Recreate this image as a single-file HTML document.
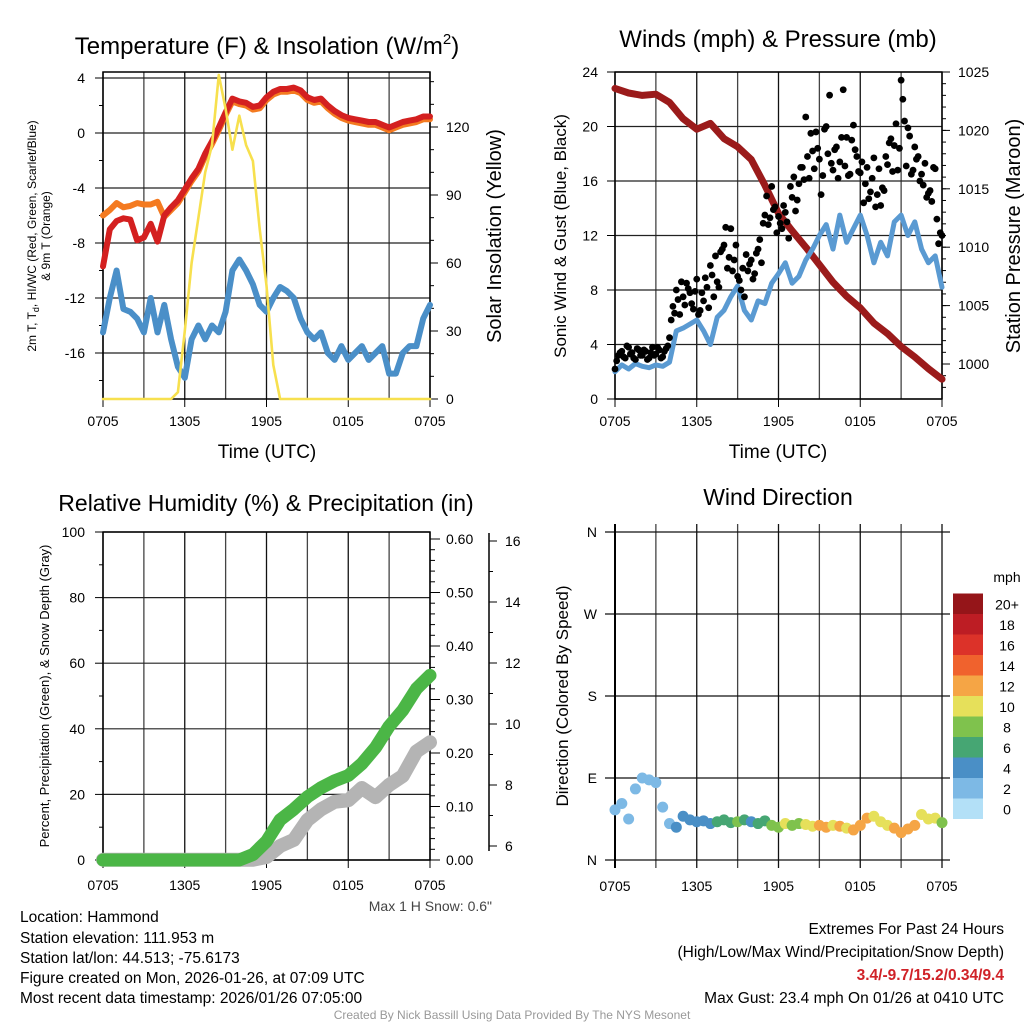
<!DOCTYPE html>
<html><head><meta charset="utf-8"><style>
html,body{margin:0;padding:0;background:#fff;}
svg{display:block;font-family:"Liberation Sans",sans-serif;}
</style></head><body>
<svg id="s" width="1024" height="1024" viewBox="0 0 1024 1024" xmlns="http://www.w3.org/2000/svg">
<rect width="1024" height="1024" fill="#fff"/>
<text x="267" y="54" font-size="24" text-anchor="middle">Temperature (F) &amp; Insolation (W/m<tspan font-size="15" dy="-10">2</tspan><tspan dy="10">)</tspan></text>
<text x="778" y="47" font-size="24" text-anchor="middle">Winds (mph) &amp; Pressure (mb)</text>
<text x="266" y="511" font-size="23" text-anchor="middle">Relative Humidity (%) &amp; Precipitation (in)</text>
<text x="778" y="505" font-size="23" text-anchor="middle">Wind Direction</text>

<text transform="translate(36,236) rotate(-90)" font-size="12" text-anchor="middle">2m T, T<tspan font-size="9" dy="3">d</tspan><tspan dy="-3">, HI/WC (Red, Green, Scarlet/Blue)</tspan></text>
<text transform="translate(50,236) rotate(-90)" font-size="12" text-anchor="middle">&amp; 9m T (Orange)</text>
<text transform="translate(501,236) rotate(-90)" font-size="20" text-anchor="middle">Solar Insolation (Yellow)</text>
<text transform="translate(566,236) rotate(-90)" font-size="17" text-anchor="middle">Sonic Wind &amp; Gust (Blue, Black)</text>
<text transform="translate(1020,236) rotate(-90)" font-size="20" text-anchor="middle">Station Pressure (Maroon)</text>
<text transform="translate(49,696) rotate(-90)" font-size="13" text-anchor="middle">Percent, Precipitation (Green), &amp; Snow Depth (Gray)</text>
<text transform="translate(568,696) rotate(-90)" font-size="17" text-anchor="middle">Direction (Colored By Speed)</text>
<text x="267" y="458" font-size="19" text-anchor="middle">Time (UTC)</text>
<text x="778" y="458" font-size="19" text-anchor="middle">Time (UTC)</text>
<text x="492" y="911" font-size="14" fill="#444" text-anchor="end">Max 1 H Snow: 0.6"</text>
<text x="1007" y="582" font-size="14" text-anchor="middle">mph</text>

<g font-size="15.5">
<text x="20" y="922">Location: Hammond</text>
<text x="20" y="943">Station elevation: 111.953 m</text>
<text x="20" y="963">Station lat/lon: 44.513; -75.6173</text>
<text x="20" y="983">Figure created on Mon, 2026-01-26, at 07:09 UTC</text>
<text x="20" y="1003">Most recent data timestamp: 2026/01/26 07:05:00</text>
</g>
<g font-size="15.5" text-anchor="end">
<text x="1004" y="934">Extremes For Past 24 Hours</text>
<text x="1004" y="957">(High/Low/Max Wind/Precipitation/Snow Depth)</text>
<text x="1004" y="980" fill="#d02228" font-weight="bold">3.4/-9.7/15.2/0.34/9.4</text>
<text x="1004" y="1003">Max Gust: 23.4 mph On 01/26 at 0410 UTC</text>
</g>
<text x="512" y="1019" font-size="12" fill="#999" text-anchor="middle">Created By Nick Bassill Using Data Provided By The NYS Mesonet</text>
</svg>
<script>
// ---- data (half-hourly unless noted) ----
const timeLabels = ["0705","1305","1905","0105","0705"];
const tempRed = [-9.7,-7.0,-6.4,-6.2,-6.3,-7.8,-7.6,-6.6,-7.9,-6.0,-5.4,-4.9,-4.1,-3.3,-2.6,-1.5,-0.6,0.4,1.5,2.5,2.3,2.2,1.9,2.0,2.6,3.0,3.2,3.2,3.3,3.1,2.6,2.4,2.5,2.0,1.6,1.3,1.1,1.0,0.9,0.8,0.8,0.6,0.4,0.6,0.8,0.9,1.0,1.2,1.2];
const temp9m = [-6.0,-5.6,-5.1,-5.4,-5.3,-5.1,-5.2,-5.2,-5.0,-6.1,-5.6,-5.1,-4.3,-3.5,-2.8,-1.7,-0.8,0.2,1.3,2.3,2.1,2.0,1.7,1.8,2.4,2.8,3.0,3.0,3.1,2.9,2.4,2.2,2.3,1.8,1.4,1.1,0.9,0.8,0.7,0.6,0.6,0.4,0.2,0.4,0.6,0.7,0.8,1.0,1.0];
const dewBlue = [-14.5,-12.0,-10.0,-12.8,-13.0,-13.5,-14.5,-12.0,-14.5,-12.5,-15.0,-17.0,-17.8,-15.0,-14.0,-15.0,-14.0,-14.5,-13.0,-10.0,-9.2,-10.0,-11.0,-12.5,-13.0,-12.0,-11.2,-11.5,-12.0,-13.5,-14.5,-15.0,-14.5,-16.0,-16.5,-15.5,-16.5,-16.0,-15.5,-16.5,-16.0,-15.5,-17.5,-17.5,-16.0,-15.5,-15.5,-13.5,-12.5];
const insolation = [0,0,0,0,0,0,0,0,0,0,0,3,30,60,80,100,112,143,128,110,125,112,105,75,50,15,0,0,0,0,0,0,0,0,0,0,0,0,0,0,0,0,0,0,0,0,0,0,0];
const windSpeed = [2.0,2.5,2.2,2.6,2.4,2.3,2.5,2.4,2.7,5.0,5.2,5.5,5.8,5.0,4.0,6.0,6.5,7.5,8.3,6.5,5.8,7.2,7.0,8.5,9.2,10.0,8.5,9.0,10.2,11.0,12.0,12.8,11.0,13.5,11.5,12.5,13.5,12.0,10.0,11.5,10.5,13.0,13.5,12.0,13.0,11.0,10.0,10.5,8.2];
// gusts every 15 min, second set offset by 7.5 min
const gustA = [2.2,3.2,3.5,3.0,3.8,3.4,2.9,3.6, 3.2,3.5,3.0,3.8,3.3,3.6,3.1,3.7, 4.5,6.8,8.0,6.2,7.5,8.5,7.8,6.6, 8.8,6.5,7.2,8.2,9.8,7.5,8.6,10.8, 11.3,9.6,12.5,10.2,9.0,8.0,7.5,9.4, 10.2,9.2,11.0,10.0,13.5,12.8,15.6,14.1, 13.4,12.5,13.7,11.8,14.8,13.8,15.8,17.0, 20.7,16.2,18.2,19.6,17.6,16.4,20.0,22.3, 16.8,18.5,17.4,22.7,19.2,16.5,20.1,17.8, 16.6,14.4,17.0,15.2,17.7,15.0,14.2,15.3, 17.2,19.1,18.6,16.8,23.4,20.4,19.9,16.5, 18.5,17.8,16.5,17.3,15.1,14.5,16.9,11.4, 12.0];
const gustB = [2.8,3.4,3.1,3.9,3.3,3.0,3.7,3.2, 3.6,2.9,3.4,3.2,3.8,3.0,3.5,3.9, 5.8,6.3,7.3,8.6,6.9,8.1,7.0,7.9, 6.2,7.8,8.9,6.7,9.1,10.5,8.2,11.0, 12.6,10.4,9.4,11.3,8.7,9.6,10.6,9.9, 8.8,10.7,11.7,12.9,14.9,13.3,13.9,12.2, 12.9,14.2,13.0,15.6,16.3,14.6,17.0,16.1, 17.8,19.5,16.9,18.4,15.0,19.8,18.0,17.3, 18.3,16.2,19.2,17.1,16.4,19.0,18.3,16.7, 17.4,15.8,14.7,16.2,14.1,16.9,15.5,17.8, 18.8,16.7,20.2,18.4,22.0,17.1,19.3,16.8, 17.6,16.0,15.7,14.8,15.3,17.0,13.2,12.2];
// hourly
const pressure = [1023.6,1023.2,1023.0,1023.1,1022.4,1021.0,1020.1,1020.6,1019.3,1018.6,1017.5,1015.3,1012.9,1011.4,1010.0,1008.5,1007.0,1005.8,1004.8,1003.5,1002.6,1001.5,1000.6,999.6,998.7];
const precip = [0,0,0,0,0,0,0,0,0,0,0,0.01,0.035,0.075,0.095,0.118,0.135,0.148,0.158,0.18,0.21,0.25,0.28,0.32,0.345];
const snowDepth = [5.55,5.55,5.55,5.55,5.55,5.55,5.55,5.55,5.55,5.55,5.55,5.55,5.64,6.0,6.2,6.85,7.2,7.45,7.5,7.9,7.6,8.0,8.3,9.1,9.4];
const windDir = [55,62,45,78,90,88,85,58,40,36,48,44,42,43,40,42,44,41,42,44,42,40,43,38,36,40,38,40,39,37,38,36,38,37,35,33,38,46,48,42,38,35,30,34,38,50,45,46,41];
const cbLabels = ["0","2","4","6","8","10","12","14","16","18","20+"];
const cbColors = ["#b3e0f7","#7db9e5","#4a8fc6","#46a673","#7fc24d","#e6e05a","#f5a545","#f0622d","#dc3229","#bd1d24","#951519"];
const NS="http://www.w3.org/2000/svg", svg=document.getElementById('s');
function mk(tag,attrs,parent){const e=document.createElementNS(NS,tag);for(const k in attrs)e.setAttribute(k,attrs[k]);(parent||svg).appendChild(e);return e;}
function lin(d0,d1,r0,r1){return v=>r0+(v-d0)*(r1-r0)/(d1-d0);}
function pathD(arr,step,xs,ys){return arr.map((v,i)=>(i?'L':'M')+xs(i*step).toFixed(1)+' '+ys(v).toFixed(1)).join('');}
function txt(x,y,s,anchor,size,name){const t=mk('text',{x:x,y:y,'font-size':size||14,'text-anchor':anchor||'middle'});t.textContent=s;


return t;}
function line(x1,y1,x2,y2,st,w,name){const l=mk('line',{x1:x1,y1:y1,x2:x2,y2:y2,stroke:st,'stroke-width':w});


return l;}
function grid(L,R,T,B,hys,name,lblOff){
  for(let k=0;k<=8;k++){const x=L+k*(R-L)/8;line(x,T,x,B,k%2?'#444':'#111',1.3,name+'-vgrid');}
  hys.forEach(y=>line(L,y,R,y,'#222',1.2,name+'-hgrid'));
  timeLabels.forEach((s,i)=>{const x=L+i*(R-L)/4;txt(x,B+lblOff,s,'middle',14,name+'-time-label');line(x,B,x,B+8,'#000',1,name+'-time-tick');});
}
// ---------- Panel 1 ----------
{const L=103,R=430,T=72,B=399;const xs=lin(0,24,L,R);const yT=lin(0,4,133,78);const yI=lin(0,30,399,331);
 const g=[4,0,-4,-8,-12,-16];grid(L,R,T,B,g.map(yT),'temp',27);
 g.forEach(v=>{txt(85,yT(v)+5,String(v),'end',14,'temp-y-label');line(L-8,yT(v),L,yT(v),'#000',1,'temp-y-tick');});
 for(let v=-18;v<=4;v+=2)line(L-4,yT(v),L,yT(v),'#000',1,'temp-y-minor');
 [0,30,60,90,120].forEach(v=>{txt(446,yI(v)+5,String(v),'start',14,'insol-y-label');line(R,yI(v),R+8,yI(v),'#000',1,'insol-y-tick');});
 for(let v=0;v<=140;v+=10)line(R,yI(v),R+4,yI(v),'#000',1,'insol-y-minor');
 const fr=mk('rect',{x:L,y:T,width:R-L,height:B-T,fill:'none',stroke:'#000','stroke-width':1.5});
 
 
 const s=[[temp9m,'#f47a20',6,'nine-meter-temp-line'],[tempRed,'#d42020',6,'temperature-line'],[dewBlue,'#4a8fc8',6,'dewpoint-line'],[insolation,'#f7e04e',2.6,'insolation-line']];
 s.forEach(([a,c,w,n])=>{const ys=(a===insolation)?yI:yT;const p=mk('path',{d:pathD(a,0.5,xs,ys),fill:'none',stroke:c,'stroke-width':w,'stroke-linejoin':'round','stroke-linecap':'round'});
 
 });
}
// ---------- Panel 2 ----------
{const L=615,R=942,T=72,B=399;const xs=lin(0,24,L,R);const yW=lin(0,24,399,72);const yP=lin(1000,1025,364,72);
 const g=[0,4,8,12,16,20,24];grid(L,R,T,B,g.map(yW),'wind',27);
 g.forEach(v=>{txt(598,yW(v)+5,String(v),'end',14,'wind-y-label');line(L-8,yW(v),L,yW(v),'#000',1,'wind-y-tick');});
 [1000,1005,1010,1015,1020,1025].forEach(v=>{txt(958,yP(v)+5,String(v),'start',14,'pressure-y-label');line(R,yP(v),R+8,yP(v),'#000',1,'pressure-y-tick');});
 for(let v=998;v<=1025;v++)line(R,yP(v),R+4,yP(v),'#000',1,'pressure-y-minor');
 const fr=mk('rect',{x:L,y:T,width:R-L,height:B-T,fill:'none',stroke:'#000','stroke-width':1.5});
 
 
 const p=mk('path',{d:pathD(pressure,1,xs,yP),fill:'none',stroke:'#9b1b1b','stroke-width':7,'stroke-linejoin':'round','stroke-linecap':'round'});
 
 
 const w=mk('path',{d:pathD(windSpeed,0.5,xs,yW),fill:'none',stroke:'#5a9ad2','stroke-width':5,'stroke-linejoin':'round','stroke-linecap':'round'});
 
 
 gustA.forEach((v,i)=>{const c=mk('circle',{cx:xs(i*0.25),cy:yW(v),r:3.4,fill:'#000'});
 
 });
 gustB.forEach((v,i)=>{const c=mk('circle',{cx:xs(i*0.25+0.125),cy:yW(v),r:3.4,fill:'#000'});
 
 });
}
// ---------- Panel 3 ----------
{const L=103,R=430,T=532,B=860;const xs=lin(0,24,L,R);const yH=lin(0,100,860,532);const yPr=lin(0,0.6,860,539);const yS=lin(6,16,846,541);
 const g=[0,20,40,60,80,100];grid(L,R,T,B,g.map(yH),'rh',30);
 g.forEach(v=>{txt(85,yH(v)+5,String(v),'end',14,'rh-y-label');line(L-8,yH(v),L,yH(v),'#000',1,'rh-y-tick');});
 for(let v=10;v<100;v+=20)line(L-4,yH(v),L,yH(v),'#000',1,'rh-y-minor');
 [0,0.1,0.2,0.3,0.4,0.5,0.6].forEach(v=>{txt(446,yPr(v)+5,v.toFixed(2),'start',14,'precip-y-label');line(R,yPr(v),R+10,yPr(v),'#000',1,'precip-y-tick');});
 for(let v=0;v<=0.6;v+=0.02)line(R,yPr(v),R+5,yPr(v),'#000',1,'precip-y-minor');
 line(489,533,489,851,'#000',1.5,'snow-axis-line');
 [6,8,10,12,14,16].forEach(v=>{txt(505,yS(v)+5,String(v),'start',14,'snow-y-label');line(489,yS(v),497,yS(v),'#000',1,'snow-y-tick');});
 for(let v=6;v<=16;v++)line(489,yS(v),493,yS(v),'#000',1,'snow-y-minor');
 const fr=mk('rect',{x:L,y:T,width:R-L,height:B-T,fill:'none',stroke:'#000','stroke-width':1.5});
 
 
 const sn=mk('path',{d:pathD(snowDepth,1,xs,yS),fill:'none',stroke:'#b4b4b4','stroke-width':14,'stroke-linejoin':'round','stroke-linecap':'round'});
 
 
 const pr=mk('path',{d:pathD(precip,1,xs,yPr),fill:'none',stroke:'#4bb646','stroke-width':13,'stroke-linejoin':'round','stroke-linecap':'round'});
 
 
}
// ---------- Panel 4 ----------
{const L=615,R=942,T=532,B=860;const xs=lin(0,24,L,R);const yD=lin(0,360,860,532);
 const dirs=['N','E','S','W','N'];
 for(let k=0;k<=8;k++){const x=L+k*(R-L)/8;line(x,T-8,x,B+8,k%2?'#444':'#111',1.3,'dir-vgrid');}
 dirs.forEach((s,i)=>{const y=yD(i*90);line(L-10,y,R+8,y,'#111',1.2,'dir-hgrid');txt(597,y+5,s,'end',14,'dir-y-label');});
 timeLabels.forEach((s,i)=>txt(L+i*(R-L)/4,B+31,s,'middle',14,'dir-time-label'));
 line(L,T-8,L,B+8,'#000',2,'dir-left-axis');
 windDir.forEach((d,i)=>{const b=Math.min(10,Math.floor(windSpeed[i]/2));const c=mk('circle',{cx:xs(i*0.5),cy:yD(d),r:5.5,fill:cbColors[b]});
 
 });
 cbColors.forEach((c,i)=>{const y=819-(i+1)*20.5;const r=mk('rect',{x:953,y:y,width:30,height:20.5,fill:c});
 
 
 txt(1007,y+16,cbLabels[i],'middle',14,'colorbar-label');});
}
</script>
</body></html>
